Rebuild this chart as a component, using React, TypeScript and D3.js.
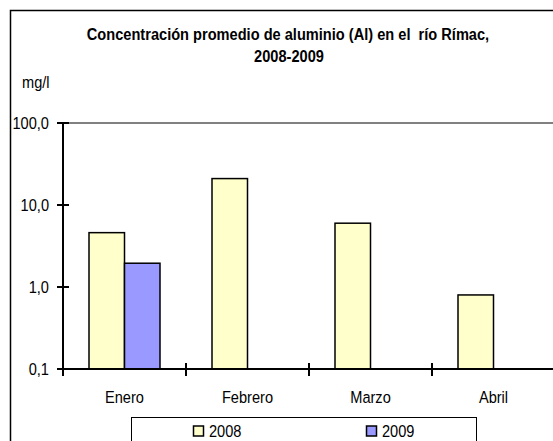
import React from "react";
import * as d3 from "d3";

const categories = ["Enero", "Febrero", "Marzo", "Abril"];
const seriesNames = ["2008", "2009"];
const values2008: (number | null)[] = [4.6, 21, 6.0, 0.8];
const values2009: (number | null)[] = [1.95, null, null, null];
const yTicks = [0.1, 1, 10, 100];
const titleLine1 = "Concentración promedio de aluminio (Al) en el  río Rímac,";
const titleLine2 = "2008-2009";
const yUnit = "mg/l";

const colors: Record<string, string> = { "2008": "#FFFFCC", "2009": "#9999FF" };
const FONT = "'Liberation Sans', Arial, sans-serif";
const SY = 1.12;

function T(props: {
  x: number;
  y: number;
  anchor?: "start" | "middle" | "end";
  bold?: boolean;
  children: React.ReactNode;
}) {
  return (
    <text
      transform={`translate(${props.x},${props.y}) scale(1,${SY})`}
      textAnchor={props.anchor || "start"}
      fontFamily={FONT}
      fontWeight={props.bold ? "bold" : "normal"}
      fontSize={14.6}
      style={{ whiteSpace: "pre" }}
      xmlSpace="preserve"
    >
      {props.children}
    </text>
  );
}

export default function App() {
  const W = 553;
  const H = 441;
  const x0 = d3.scaleBand<string>().domain(categories).range([63, 555]).padding(0);
  const x1 = d3.scaleBand<string>().domain(seriesNames).range([26, 97]).padding(0);
  const y = d3.scaleLog().domain([0.1, 100]).range([369, 123]);
  const fmt = (v: number) => d3.format(".1f")(v).replace(".", ",");
  const seriesValues: Record<string, (number | null)[]> = { "2008": values2008, "2009": values2009 };
  const catTicks = [...categories.map((c) => x0(c)!), x0(categories[categories.length - 1])! + x0.bandwidth()];

  return (
    <svg width={W} height={H} style={{ position: "absolute", left: 0, top: 0, display: "block" }}>
      <rect x={0} y={0} width={W} height={H} fill="#fff" />
      <path d={`M10.5,${H + 5}V10.5H${W + 5}`} fill="none" stroke="#000" strokeWidth={1.5} />
      <T x={288} y={40} anchor="middle" bold>{titleLine1}</T>
      <T x={289} y={62} anchor="middle" bold>{titleLine2}</T>
      <T x={22} y={88}>{yUnit}</T>
      <line x1={63} x2={W} y1={y(100)} y2={y(100)} stroke="#808080" strokeWidth={2} />
      {categories.map((c, i) =>
        seriesNames.map((s) => {
          const v = seriesValues[s][i];
          if (v == null) return null;
          const bx = x0(c)! + x1(s)!;
          return (
            <rect
              key={c + s}
              x={bx}
              y={y(v)}
              width={x1.bandwidth()}
              height={y(0.1) - y(v)}
              fill={colors[s]}
              stroke="#000"
              strokeWidth={1.5}
            />
          );
        })
      )}
      <line x1={63} x2={63} y1={y(100)} y2={y(0.1) + 6} stroke="#000" strokeWidth={2} />
      {yTicks.map((t) => (
        <g key={t}>
          <line x1={57} x2={69} y1={y(t)} y2={y(t)} stroke="#000" strokeWidth={2} />
          <T x={49} y={y(t) + 5.5} anchor="end">{fmt(t)}</T>
        </g>
      ))}
      <line x1={57} x2={W} y1={y(0.1)} y2={y(0.1)} stroke="#000" strokeWidth={2} />
      {catTicks.map((tx, i) => (
        <line key={i} x1={tx} x2={tx} y1={y(0.1) - 6} y2={y(0.1) + 7} stroke="#000" strokeWidth={2} />
      ))}
      {categories.map((c) => (
        <T key={c} x={x0(c)! + x0.bandwidth() / 2} y={403} anchor="middle">{c}</T>
      ))}
      <rect x={131.5} y={417.5} width={345} height={40} fill="#fff" stroke="#000" strokeWidth={1} />
      {seriesNames.map((s, i) => {
        const lx = [193, 366][i];
        return (
          <g key={s}>
            <rect x={lx + 0.5} y={426} width={10} height={10} fill={colors[s]} stroke="#000" strokeWidth={1.5} />
            <T x={lx + 16} y={437}>{s}</T>
          </g>
        );
      })}
    </svg>
  );
}
